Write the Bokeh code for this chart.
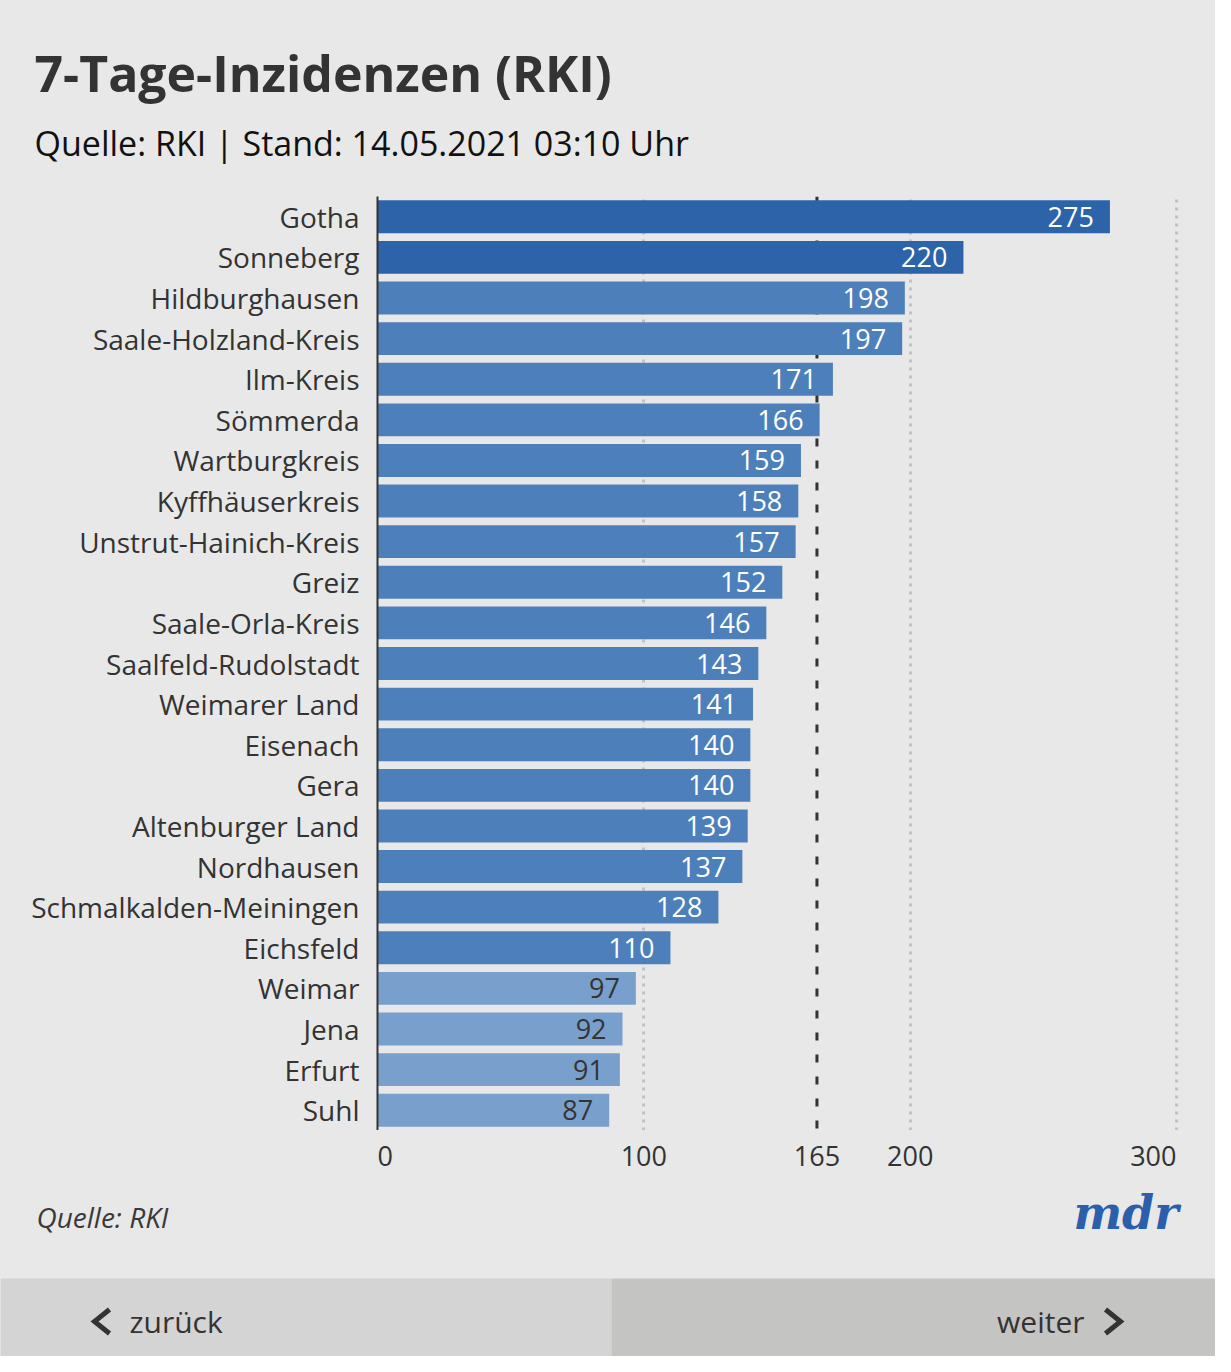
from bokeh.plotting import figure
from bokeh.models import ColumnDataSource, LabelSet, Span, FixedTicker, Range1d
from bokeh.layouts import column
from bokeh.embed import file_html
from bokeh.resources import INLINE
from bokeh.core.properties import value, field

# ---- data ----
districts = ["Gotha", "Sonneberg", "Hildburghausen", "Saale-Holzland-Kreis", "Ilm-Kreis",
             "Sömmerda", "Wartburgkreis", "Kyffhäuserkreis", "Unstrut-Hainich-Kreis", "Greiz",
             "Saale-Orla-Kreis", "Saalfeld-Rudolstadt", "Weimarer Land", "Eisenach", "Gera",
             "Altenburger Land", "Nordhausen", "Schmalkalden-Meiningen", "Eichsfeld", "Weimar",
             "Jena", "Erfurt", "Suhl"]
incidence = [275, 220, 198, 197, 171, 166, 159, 158, 157, 152, 146, 143, 141, 140, 140,
             139, 137, 128, 110, 97, 92, 91, 87]
x_ticks = [0, 100, 165, 200, 300]
x_tick_labels = ["0", "100", "165", "200", "300"]
grid_values = [100, 200, 300]
threshold = 165

title_text = "7-Tage-Inzidenzen (RKI)"
subtitle_text = "Quelle: RKI | Stand: 14.05.2021 03:10 Uhr"
source_text = "Quelle: RKI"
logo_text = "mdr"
nav_back = "zurück"
nav_next = "weiter"

# ---- styles ----
BG = "#e8e8e8"
TXT = "#333333"
FONT = "Open Sans"


def bar_color(v):
    if v > 200:
        return "#2c63a9"
    if v >= 100:
        return "#4d80bb"
    return "#79a0cc"


def label_color(v):
    return "#ffffff" if v >= 100 else TXT


src = ColumnDataSource(dict(
    name=districts,
    value=incidence,
    color=[bar_color(v) for v in incidence],
    tcolor=[label_color(v) for v in incidence],
))

W, H = 1215, 1356
FL, FT, FB = 377, 196, 1130
PX_PER_UNIT = 799 / 300          # 300 units span 799 px
FR = 1180                        # frame a little wider so the 300 grid line shows
XEND = (FR - FL) / PX_PER_UNIT


def dx(cx):
    # canvas pixel x -> data x of the main chart
    return (cx - FL) / PX_PER_UNIT


def plain(fig):
    fig.background_fill_color = BG
    fig.border_fill_color = BG
    fig.outline_line_color = None
    fig.grid.visible = False
    fig.frame_align = False
    return fig


# ---- header ----
head = plain(figure(width=W, height=FT, x_range=Range1d(0, W), y_range=Range1d(FT, 0),
                    output_backend="svg", toolbar_location=None, title=None, min_border=0,
                    x_axis_location=None, y_axis_location=None))
head.text(x=[34], y=[72], text=[title_text], text_font=value(FONT), text_font_style="bold",
          text_font_size="50px", text_color=TXT, text_baseline="middle")
head.text(x=[34], y=[142], text=[subtitle_text], text_font=value(FONT),
          text_font_size="34px", text_color="#111111", text_baseline="middle")

# ---- main chart ----
p = figure(width=W, height=FB - FT, y_range=list(reversed(districts)),
           x_range=Range1d(0, XEND), output_backend="svg", toolbar_location=None,
           title=None, min_border_left=FL, min_border_right=W - FR, min_border_top=0,
           min_border_bottom=0, x_axis_location=None)
p.background_fill_color = BG
p.border_fill_color = BG
p.outline_line_color = None
p.frame_align = False

p.yaxis.axis_line_color = TXT
p.yaxis.axis_line_width = 2
p.yaxis.major_tick_line_color = None
p.yaxis.minor_tick_line_color = None
p.yaxis.major_label_text_font = FONT
p.yaxis.major_label_text_font_size = "28px"
p.yaxis.major_label_text_color = TXT
p.yaxis.major_label_standoff = 12
p.ygrid.visible = False

p.xgrid.ticker = FixedTicker(ticks=grid_values)
p.xgrid.grid_line_color = "#c2c2c2"
p.xgrid.grid_line_width = 3
p.xgrid.grid_line_dash = "3 5"

p.add_layout(Span(location=threshold, dimension="height", line_color=TXT,
                  line_width=3, line_dash="8 14", level="underlay"))

p.hbar(y="name", right="value", left=0, height=0.81, source=src,
       fill_color="color", line_color=None)

p.add_layout(LabelSet(x="value", y="name", text="value", source=src, x_offset=-16,
                      text_align="right", text_baseline="middle",
                      text_color=field("tcolor"), text_font=value(FONT),
                      text_font_size="27px"))

# ---- footer: tick labels, source, logo, navigation ----
foot = plain(figure(width=W, height=H - FB, x_range=Range1d(dx(0), dx(W)),
                    y_range=Range1d(H, FB), output_backend="svg", toolbar_location=None,
                    title=None, min_border=0, x_axis_location=None, y_axis_location=None))

aligns = ["left", "center", "center", "center", "right"]
foot.text(x=x_ticks, y=[1155] * len(x_ticks), text=x_tick_labels, text_align=aligns,
          text_baseline="middle", text_font=value(FONT), text_font_size="27px",
          text_color=TXT)
foot.text(x=[dx(36)], y=[1216], text=[source_text], text_font=value(FONT),
          text_font_style="italic", text_font_size="28px", text_color="#3a3a3a",
          text_baseline="middle")
foot.text(x=[dx(1178)], y=[1212], text=[logo_text], text_font=value("DejaVu Serif"),
          text_font_style="bold italic", text_font_size="46px", text_color="#2b5fab",
          text_baseline="middle", text_align="right")

NAV_TOP, NAV_SPLIT, NAV_MID = 1278, 611, 1321
foot.quad(left=[dx(0), dx(NAV_SPLIT)], right=[dx(NAV_SPLIT), dx(W)], top=[NAV_TOP, NAV_TOP],
          bottom=[H, H], fill_color=["#d4d4d4", "#c4c4c2"], line_color=None)
foot.multi_line(xs=[[dx(109), dx(94), dx(109)], [dx(1105), dx(1120), dx(1105)]],
                ys=[[NAV_MID - 12, NAV_MID, NAV_MID + 12]] * 2,
                line_color=TXT, line_width=5, line_join="miter")
foot.text(x=[dx(129)], y=[NAV_MID], text=[nav_back], text_font=value(FONT),
          text_font_size="30px", text_color=TXT, text_baseline="middle", text_align="left")
foot.text(x=[dx(1084)], y=[NAV_MID], text=[nav_next], text_font=value(FONT),
          text_font_size="30px", text_color=TXT, text_baseline="middle", text_align="right")

layout = column(head, p, foot, spacing=0, styles={"background-color": BG})
open("out.html", "w").write(file_html(layout, INLINE))
